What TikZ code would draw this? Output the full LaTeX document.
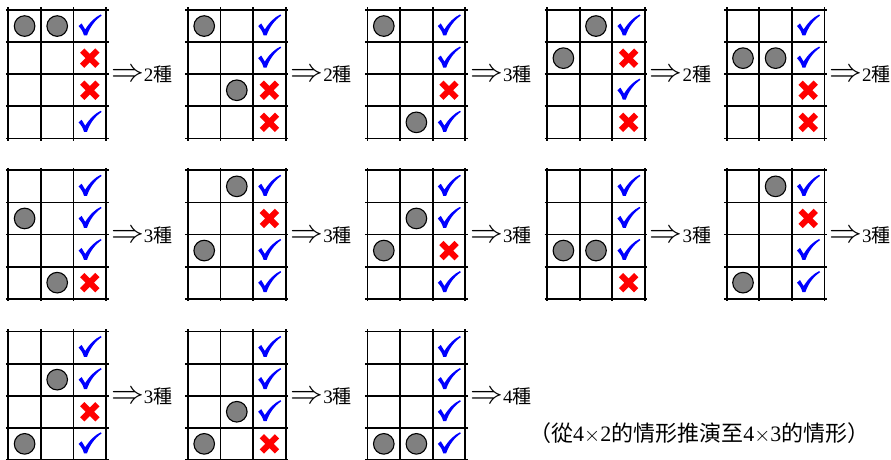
\documentclass[tikz,border=0pt]{standalone}
\usepackage{graphicx}
\usepackage{fontspec}
\setmainfont{Liberation Serif}
\newfontfamily\cjk{Noto Sans CJK TC}
\definecolor{stonegray}{HTML}{808080}
\definecolor{checkblue}{HTML}{0000FF}
\definecolor{crossred}{HTML}{FF0000}
\tikzset{
  gridline/.style={line width=1.8pt, draw=black},
  stone/.style={fill=stonegray, draw=black, line width=1.1pt},
  crossline/.style={line width=6pt, draw=crossred},
  countlabel/.style={anchor=west, inner sep=0pt, font=\fontsize{19}{19}\selectfont},
  notelabel/.style={anchor=west, inner sep=0pt, font=\fontsize{22}{22}\selectfont}
}
\newcommand\myarrow{\scalebox{1.9}{$\Rightarrow$}}
\newcommand\checkmk[2]{%
  \fill[checkblue, shift={(#1,#2)}] (-11.2,0.8) -- (-8.2,-1.8) .. controls (-6.5,0.5) .. (-4.6,4.2)
    .. controls (0,-3) and (5,-8) .. (11,-10.8) -- (11.8,-9.6)
    .. controls (5,-5) and (0,2) .. (-2.8,10.2) -- (-5.8,10.2) .. controls (-7.4,5.5) .. cycle;}
\newcommand\crossmk[2]{%
  \begin{scope}[shift={(#1,#2)}]
    \draw[crossline] (-7.6,-7.6) -- (7.6,7.6) (-7.6,7.6) -- (7.6,-7.6);
  \end{scope}}
\newcommand\mygrid[6]{%
  \begin{scope}[shift={(#2,#3)}]
    \foreach \ii in {0,...,3} \draw[gridline] ({\ii*32.6},-2.5) -- ({\ii*32.6},130.9);
    \foreach \jj in {0,...,4} \draw[gridline] (-2.5,{\jj*32.1}) -- (100.3,{\jj*32.1});
    \foreach \cc/\rr in {#4} \draw[stone] ({(\cc-0.5)*32.6},{(\rr-0.5)*32.1}) circle (10.3pt);
    \foreach \mm [count=\rr] in {#5} {%
      \pgfmathsetmacro\yy{(\rr-0.5)*32.1}%
      \if\mm c\checkmk{81.5}{\yy-0.8}\else\crossmk{81.5}{\yy}\fi}
    \node[countlabel] (#1) at (102.5,64.6) {\myarrow#6{\cjk 種}};
  \end{scope}}
\begin{document}
\begin{tikzpicture}[x=1pt,y=-1pt]
  \fill[white] (0,0) rectangle (891,460);
  \useasboundingbox (0,0) rectangle (891,460);
  \clip (0,0) rectangle (891,460);
  % row 1
  \mygrid{g1}{8.3}{10}{1/1,2/1}{c,x,x,c}{2}
  \mygrid{g2}{187.9}{10}{1/1,2/3}{c,c,x,x}{2}
  \mygrid{g3}{367.5}{10}{1/1,2/4}{c,c,x,c}{3}
  \mygrid{g4}{547.1}{10}{2/1,1/2}{c,x,c,x}{2}
  \mygrid{g5}{726.7}{10}{1/2,2/2}{c,c,x,x}{2}
  % row 2
  \mygrid{g6}{8.3}{170.3}{1/2,2/4}{c,c,c,x}{3}
  \mygrid{g7}{187.9}{170.3}{2/1,1/3}{c,x,c,c}{3}
  \mygrid{g8}{367.5}{170.3}{2/2,1/3}{c,c,x,c}{3}
  \mygrid{g9}{547.1}{170.3}{1/3,2/3}{c,c,c,x}{3}
  \mygrid{g10}{726.7}{170.3}{2/1,1/4}{c,x,c,c}{3}
  % row 3
  \mygrid{g11}{8.3}{331.5}{2/2,1/4}{c,c,x,c}{3}
  \mygrid{g12}{187.9}{331.5}{2/3,1/4}{c,c,c,x}{3}
  \mygrid{g13}{367.5}{331.5}{1/4,2/4}{c,c,c,c}{4}
  \node[notelabel] (note) at (529,433) {{\cjk （從}4$\times$2{\cjk 的情形推演至}4$\times$3{\cjk 的情形）}};
\end{tikzpicture}
\end{document}
